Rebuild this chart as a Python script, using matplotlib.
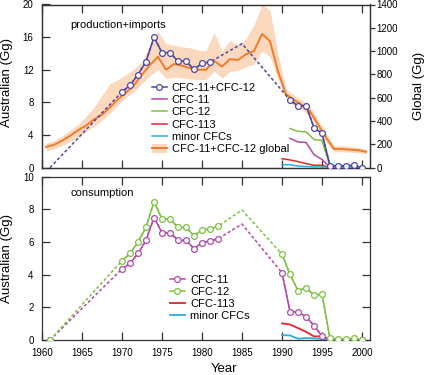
import numpy as np
import matplotlib
matplotlib.use("Agg")
import matplotlib.pyplot as plt
from matplotlib.patches import Patch
from matplotlib.lines import Line2D

plt.rcParams['font.family'] = ['Liberation Sans', 'DejaVu Sans']

# ---------------- data ----------------
# Top panel: production + imports (Australian, Gg)
tot_years = [1961, 1970, 1971, 1972, 1973, 1974, 1975, 1976, 1977, 1978, 1979, 1980, 1981,
             1985, 1991, 1992, 1993, 1994, 1995, 1996, 1997, 1998, 1999, 2000]
tot_vals = [0.0, 9.3, 10.1, 11.4, 13.0, 16.0, 14.1, 14.1, 13.05, 13.05, 12.05, 12.8, 12.95,
            15.2, 8.3, 7.55, 7.6, 4.9, 4.2, 0.25, 0.25, 0.25, 0.3, 0.0]
tot_unmarked = [1961, 1985]

top_years_91 = [1991, 1992, 1993, 1994, 1995, 1996, 1997, 1998, 1999, 2000]
top_cfc11 = [3.6, 3.15, 3.1, 1.6, 1.0, 0.05, 0.05, 0.05, 0.05, 0.0]
top_cfc12 = [4.8, 4.45, 4.4, 3.45, 3.35, 0.2, 0.2, 0.2, 0.25, 0.0]
top_years_90 = [1990, 1991, 1992, 1993, 1994, 1995, 1996, 1997, 1998, 1999, 2000]
top_cfc113 = [1.1, 0.95, 0.75, 0.5, 0.3, 0.3, 0.02, 0.0, 0.0, 0.0, 0.0]
top_minor = [0.38, 0.35, 0.2, 0.15, 0.1, 0.08, 0.05, 0.03, 0.02, 0.02, 0.0]

# Global CFC-11+CFC-12 (Gg) with uncertainty band
glob_years = list(np.arange(1960.5, 2001.0, 1.0))
glob_vals = [178, 196, 231, 273, 322, 361, 413, 455, 518, 588, 644, 707, 798, 882, 952, 840,
             889, 875, 854, 840, 840, 917, 868, 931, 924, 973, 1001, 1148, 1085, 826, 630,
             581, 539, 483, 371, 259, 161, 161, 154, 150, 137]
glob_hi = [210, 231, 273, 322, 371, 441, 518, 623, 721, 756, 798, 847, 910, 1050, 1169, 1064,
           1050, 1036, 1029, 1008, 1001, 1162, 1001, 1092, 1050, 1106, 1225, 1400, 1351, 980,
           672, 623, 581, 525, 413, 301, 189, 189, 182, 175, 158]
glob_lo = [140, 161, 189, 224, 266, 308, 357, 406, 469, 539, 602, 651, 721, 791, 840, 763,
           777, 770, 763, 756, 756, 826, 770, 826, 833, 868, 889, 1001, 952, 756, 588, 539,
           497, 441, 336, 224, 137, 137, 133, 130, 119]

# Bottom panel: consumption (Australian, Gg)
bot_years = [1961, 1970, 1971, 1972, 1973, 1974, 1975, 1976, 1977, 1978, 1979, 1980, 1981,
             1982, 1985, 1990, 1991, 1992, 1993, 1994, 1995, 1996, 1997, 1998, 1999, 2000]
bot_cfc11 = [0.0, 4.35, 4.7, 5.3, 6.1, 7.5, 6.57, 6.57, 6.1, 6.1, 5.6, 5.96, 6.06, 6.2, 7.1,
             4.12, 1.73, 1.73, 1.43, 0.88, 0.25, 0.0, 0.0, 0.0, 0.0, 0.0]
bot_cfc12 = [0.0, 4.86, 5.3, 6.0, 6.9, 8.47, 7.41, 7.41, 6.9, 6.9, 6.39, 6.74, 6.8, 6.96, 7.96,
             5.25, 4.02, 3.02, 3.2, 2.75, 2.8, 0.1, 0.05, 0.05, 0.1, 0.0]
bot_unmarked = [1985]
bot_years_90 = [1990, 1991, 1992, 1993, 1994, 1995, 1996, 1997, 1998, 1999, 2000]
bot_cfc113 = [1.02, 0.95, 0.73, 0.5, 0.22, 0.22, 0.04, 0.0, 0.0, 0.0, 0.0]
bot_minor = [0.3, 0.28, 0.08, 0.12, 0.1, 0.06, 0.04, 0.03, 0.02, 0.02, 0.0]

xticks = [1960, 1965, 1970, 1975, 1980, 1985, 1990, 1995, 2000]

# ---------------- style ----------------
C_TOT = '#4e46a6'
C_11 = '#b04aa8'
C_12 = '#7dc142'
C_113 = '#e8232a'
C_MIN = '#2aaee0'
C_GLB = '#f47a26'
C_BAND = '#fbd9bf'
C_AX = '#333333'
LW = 1.1
DASH = (0, (2.0, 1.5))
MS = 4.2


def draw_series(ax, years, vals, color, unmarked=(), z=4):
    years = np.asarray(years, float)
    vals = np.asarray(vals, float)
    ax.plot(years, vals, color=color, lw=LW, ls=DASH, zorder=z)
    breaks = np.where(np.diff(years) > 1)[0] + 1
    for sy, sv in zip(np.split(years, breaks), np.split(vals, breaks)):
        if len(sy) > 1:
            ax.plot(sy, sv, color=color, lw=LW, zorder=z + 0.1,
                    solid_joinstyle='miter')
    m = ~np.isin(years, unmarked)
    ax.plot(years[m], vals[m], ls='none', marker='o', ms=MS, mfc='white',
            mec=color, mew=0.9, zorder=z + 0.2)


fig = plt.figure(figsize=(4.25, 3.75), dpi=100)
ax1 = fig.add_axes([0.0988, 0.5528, 0.7718, 0.4352])
ax2 = fig.add_axes([0.0988, 0.0933, 0.7718, 0.4355])
axg = ax1.twinx()

# --- top panel ---
axg.fill_between(glob_years, glob_lo, glob_hi, color=C_BAND, lw=0, zorder=1)
axg.plot(glob_years, glob_vals, color=C_GLB, lw=1.4, zorder=2)
axg.set_ylim(0, 1400)
axg.set_yticks(range(0, 1401, 200))

ax1.set_zorder(axg.get_zorder() + 1)
ax1.patch.set_visible(False)

draw_series(ax1, tot_years, tot_vals, C_TOT, unmarked=tot_unmarked, z=5)
ax1.plot(top_years_91, top_cfc11, color=C_11, lw=LW, zorder=3)
ax1.plot(top_years_91, top_cfc12, color=C_12, lw=LW, zorder=3)
ax1.plot(top_years_90, top_cfc113, color=C_113, lw=LW, zorder=3)
ax1.plot(top_years_90, top_minor, color=C_MIN, lw=LW, zorder=3)

ax1.set_xlim(1960, 2001)
ax1.set_ylim(0, 20)
ax1.set_yticks(range(0, 21, 4))
ax1.set_xticks(xticks)
ax1.text(0.0875, 0.874, 'production+imports', transform=ax1.transAxes,
         fontsize=8, va='center', ha='left')

h_tot = Line2D([], [], color=C_TOT, lw=LW, marker='o', ms=MS, mfc='white', mec=C_TOT, mew=0.9)
h_11 = Line2D([], [], color=C_11, lw=LW)
h_12 = Line2D([], [], color=C_12, lw=LW)
h_113 = Line2D([], [], color=C_113, lw=LW)
h_min = Line2D([], [], color=C_MIN, lw=LW)
h_glb = (Patch(facecolor=C_BAND, edgecolor='none'), Line2D([], [], color=C_GLB, lw=1.4))
ax1.legend([h_tot, h_11, h_12, h_113, h_min, h_glb],
           ['CFC-11+CFC-12', 'CFC-11', 'CFC-12', 'CFC-113', 'minor CFCs',
            'CFC-11+CFC-12 global'],
           loc='upper left', bbox_to_anchor=(0.3345, 0.523), frameon=False,
           fontsize=8, handlelength=1.35, handletextpad=0.45, labelspacing=0.17,
           borderpad=0, borderaxespad=0, numpoints=1, handleheight=0.9)

ax1.set_ylabel('Australian (Gg)', fontsize=9.5)
ax1.yaxis.set_label_coords(-0.088, 0.52)
axg.set_ylabel('Global (Gg)', fontsize=9.5)
axg.yaxis.set_label_coords(1.132, 0.5)

ax1.tick_params(axis='both', direction='in', top=True, right=False, length=5.5,
                width=0.9, labelsize=7, color=C_AX, pad=6)
ax1.tick_params(axis='x', labelbottom=False)
axg.tick_params(axis='y', direction='out', length=3.5, width=0.9, labelsize=7,
                color=C_AX, pad=1.2)

# --- bottom panel ---
draw_series(ax2, bot_years, bot_cfc11, C_11, unmarked=bot_unmarked, z=4)
draw_series(ax2, bot_years, bot_cfc12, C_12, unmarked=bot_unmarked, z=5)
ax2.plot(bot_years_90, bot_cfc113, color=C_113, lw=1.3, zorder=3)
ax2.plot(bot_years_90, bot_minor, color=C_MIN, lw=1.3, zorder=3)

ax2.set_xlim(1960, 2001)
ax2.set_ylim(0, 10)
ax2.set_yticks(range(0, 11, 2))
ax2.set_xticks(xticks)
ax2.text(0.0884, 0.898, 'consumption', transform=ax2.transAxes,
         fontsize=8, va='center', ha='left')

hb_11 = Line2D([], [], color=C_11, lw=LW, marker='o', ms=MS, mfc='white', mec=C_11, mew=0.9)
hb_12 = Line2D([], [], color=C_12, lw=LW, marker='o', ms=MS, mfc='white', mec=C_12, mew=0.9)
hb_113 = Line2D([], [], color=C_113, lw=1.3)
hb_min = Line2D([], [], color=C_MIN, lw=1.3)
ax2.legend([hb_11, hb_12, hb_113, hb_min], ['CFC-11', 'CFC-12', 'CFC-113', 'minor CFCs'],
           loc='upper left', bbox_to_anchor=(0.390, 0.396), frameon=False,
           fontsize=8, handlelength=1.35, handletextpad=0.45, labelspacing=0.17,
           borderpad=0, borderaxespad=0, numpoints=1)

ax2.set_ylabel('Australian (Gg)', fontsize=9.5)
ax2.yaxis.set_label_coords(-0.088, 0.5)
ax2.set_xlabel('Year', fontsize=9.5)
ax2.xaxis.set_label_coords(0.555, -0.14)

ax2.tick_params(axis='both', direction='in', top=True, right=True, length=5.5,
                width=0.9, labelsize=7, color=C_AX, pad=6)

for a in (ax1, ax2, axg):
    for s in a.spines.values():
        s.set_color(C_AX)
        s.set_linewidth(0.9)

fig.savefig('out.png', dpi=100)
